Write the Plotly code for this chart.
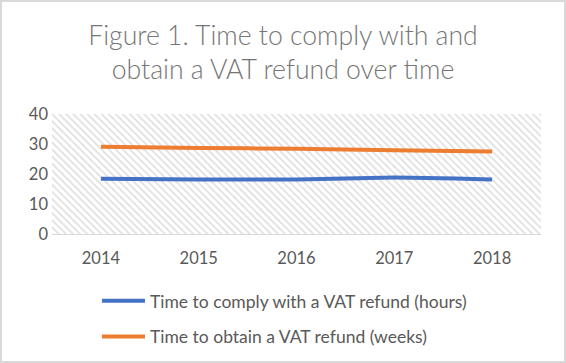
import plotly.graph_objects as go

years = [2014, 2015, 2016, 2017, 2018]
year_labels = ["2014", "2015", "2016", "2017", "2018"]
comply_hours = [18.4, 18.2, 18.2, 18.8, 18.2]
obtain_weeks = [29.1, 28.7, 28.4, 27.9, 27.5]
y_ticks = [0, 10, 20, 30, 40]
y_max = 40

GRAY = "#595959"
GRID = "#d9d9d9"

fig = go.Figure()

# hatched plot-area background
fig.add_trace(go.Bar(
    x=years, y=[y_max] * len(years), width=1,
    marker=dict(color="white", line=dict(width=0),
                pattern=dict(shape="\\", fgcolor="#bdbdbd", bgcolor="white",
                             size=5, solidity=0.33)),
    showlegend=False, hoverinfo="skip",
))

fig.add_trace(go.Scatter(
    x=years, y=comply_hours, mode="lines",
    name="Time to comply with a VAT refund (hours)",
    line=dict(color="#4472C4", width=4, shape="spline", smoothing=0.5),
    legendgroup="a",
))
fig.add_trace(go.Scatter(
    x=years, y=obtain_weeks, mode="lines",
    name="Time to obtain a VAT refund (weeks)",
    line=dict(color="#ED7D31", width=4, shape="spline", smoothing=0.5),
    legendgroup="b",
))

fig.update_layout(
    width=566, height=363,
    margin=dict(l=52, r=25, t=114, b=129, autoexpand=False),
    paper_bgcolor="white", plot_bgcolor="white",
    bargap=0,
    title=dict(
        text="Figure 1. Time to comply with and<br>obtain a VAT refund over time",
        x=0.5, xanchor="center", y=0.877, yanchor="top",
        font=dict(family="Lato", size=26.6, color="#767676", weight=300),
    ),
    xaxis=dict(
        range=[2013.5, 2018.5], tickvals=years, ticktext=year_labels,
        showgrid=True, gridcolor=GRID, gridwidth=1,
        minor=dict(tick0=2013.5, dtick=0.5, showgrid=True, gridcolor=GRID, gridwidth=1),
        showline=True, linecolor=GRID, linewidth=1,
        ticks="", zeroline=False, ticklabelstandoff=9,
        tickfont=dict(family="Lato", size=16.5, color=GRAY),
        fixedrange=True,
    ),
    yaxis=dict(
        range=[0, y_max], tickvals=y_ticks,
        showgrid=True, gridcolor=GRID, gridwidth=1,
        zeroline=False, showline=False, ticks="", ticklabelstandoff=3,
        tickfont=dict(family="Lato", size=16.5, color=GRAY),
        fixedrange=True,
    ),
    legend=dict(
        x=0.092, xanchor="left", y=-0.408, yanchor="top",
        orientation="v", tracegroupgap=10, itemwidth=43,
        font=dict(family="Lato", size=17.5, color=GRAY),
        bgcolor="rgba(0,0,0,0)",
    ),
    shapes=[dict(type="rect", xref="paper", yref="paper",
                 x0=-51/489, x1=1 + 24/489, y0=-128/120, y1=1 + 113/120,
                 line=dict(color=GRID, width=2), fillcolor="rgba(0,0,0,0)")],
)

fig.write_html("out.html", config={"displayModeBar": False},
               post_script="document.body.style.margin='0';")
